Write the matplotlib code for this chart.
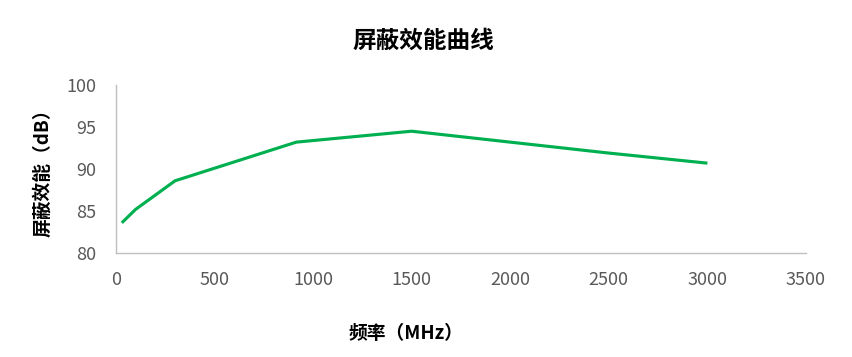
import matplotlib
matplotlib.use("Agg")
import matplotlib.pyplot as plt

plt.rcParams['font.family'] = ['Noto Sans CJK SC', 'DejaVu Sans']

# data
freq_mhz = [30, 100, 300, 915, 1500, 2000, 2500, 3000]
se_db = [83.6, 85.2, 88.6, 93.2, 94.5, 93.2, 91.9, 90.7]

x_ticks = [0, 500, 1000, 1500, 2000, 2500, 3000, 3500]
y_ticks = [80, 85, 90, 95, 100]

fig = plt.figure(figsize=(8.52, 3.57), dpi=100)
ax = fig.add_axes([0.136, 0.291, 0.810, 0.471])

ax.plot(freq_mhz, se_db, color='#00B050', linewidth=2.25, solid_capstyle='butt')

ax.set_xlim(0, 3500)
ax.set_ylim(80, 100)
ax.set_xticks(x_ticks)
ax.set_yticks(y_ticks)
ax.tick_params(length=0, labelsize=13, labelcolor='#595959')
ax.tick_params(axis='x', pad=13)
ax.tick_params(axis='y', pad=14)

for s in ['top', 'right']:
    ax.spines[s].set_visible(False)
for s in ['left', 'bottom']:
    ax.spines[s].set_color('#BFBFBF')
    ax.spines[s].set_linewidth(1.0)

fig.text(0.497, 0.885, '屏蔽效能曲线', ha='center', va='center',
         fontsize=17, fontweight='bold', color='black')
fig.text(0.477, 0.065, '频率（MHz）', ha='center', va='center',
         fontsize=13.5, fontweight='bold', color='black')
fig.text(0.05, 0.53, '屏蔽效能（dB）', ha='center', va='center', rotation=90,
         fontsize=13.5, fontweight='bold', color='black')

fig.savefig('out.png', dpi=100)
